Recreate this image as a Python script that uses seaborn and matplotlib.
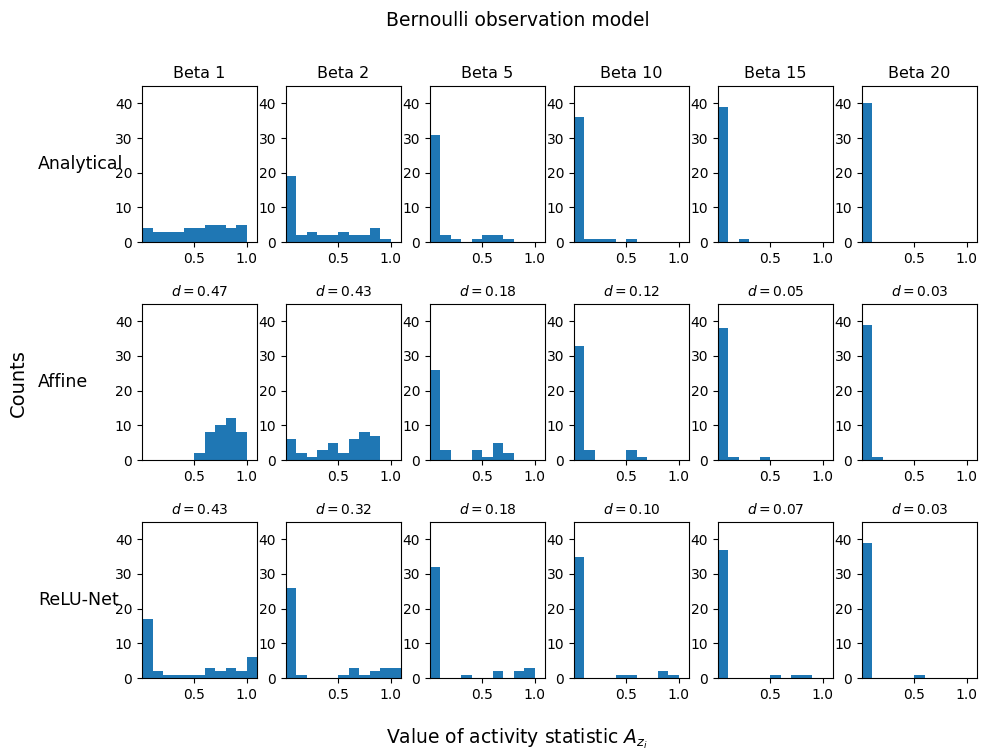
import numpy as np
import pandas as pd
import matplotlib
matplotlib.use("Agg")
import matplotlib.pyplot as plt
import seaborn as sns

betas = [1, 2, 5, 10, 15, 20]
models = ["Analytical", "Affine", "ReLU-Net"]

# counts per 0.1-wide bin starting at 0
analytical_counts = [
    [4, 3, 3, 3, 4, 4, 5, 5, 4, 5],
    [19, 2, 3, 2, 2, 3, 2, 2, 4, 1],
    [31, 2, 1, 0, 1, 2, 2, 1, 0, 0],
    [36, 1, 1, 1, 0, 1, 0, 0, 0, 0],
    [39, 0, 1, 0, 0, 0, 0, 0, 0, 0],
    [40, 0, 0, 0, 0, 0, 0, 0, 0, 0],
]
affine_counts = [
    [0, 0, 0, 0, 0, 2, 8, 10, 12, 8],
    [6, 2, 1, 3, 5, 2, 6, 8, 7, 0],
    [26, 3, 0, 0, 3, 1, 5, 2, 0, 0],
    [33, 3, 0, 0, 0, 3, 1, 0, 0, 0],
    [38, 1, 0, 0, 1, 0, 0, 0, 0, 0],
    [39, 1, 0, 0, 0, 0, 0, 0, 0, 0],
]
relu_counts = [
    [17, 2, 1, 1, 1, 1, 3, 2, 3, 2, 6],
    [26, 1, 0, 0, 0, 1, 3, 1, 2, 3, 3],
    [32, 0, 0, 1, 0, 0, 2, 0, 2, 3],
    [35, 0, 0, 0, 1, 1, 0, 0, 2, 1],
    [37, 0, 0, 0, 0, 1, 0, 1, 1, 0],
    [39, 0, 0, 0, 0, 1, 0, 0, 0, 0],
]
affine_d = [0.47, 0.43, 0.18, 0.12, 0.05, 0.03]
relu_d = [0.43, 0.32, 0.18, 0.10, 0.07, 0.03]

all_counts = [analytical_counts, affine_counts, relu_counts]
all_d = [None, affine_d, relu_d]

fig, axes = plt.subplots(3, 6, figsize=(9.81, 7.51), dpi=100)
fig.subplots_adjust(left=0.1448, right=0.9959, top=0.8855, bottom=0.0972,
                    wspace=0.252, hspace=0.397)

for r in range(3):
    for c in range(6):
        ax = axes[r, c]
        counts = all_counts[r][c]
        nb = len(counts)
        df = pd.DataFrame({"value": (np.arange(nb) + 0.5) * 0.1,
                           "count": counts})
        sns.histplot(data=df, x="value", weights="count", binwidth=0.1,
                     binrange=(0, nb * 0.1), ax=ax,
                     color="#1f77b4", alpha=1, linewidth=0)
        ax.set_xlim(0, 1.1)
        ax.set_ylim(0, 45)
        ax.set_xticks([0.5, 1.0])
        ax.set_yticks([0, 10, 20, 30, 40])
        ax.set_xlabel("")
        ax.set_ylabel("")
        ax.tick_params(labelsize=10)
        if r == 0:
            ax.set_title(f"Beta {betas[c]}", fontsize=11.5)
        else:
            ax.set_title(f"$d = {all_d[r][c]:.2f}$", fontsize=10)

for r, name in enumerate(models):
    pos = axes[r, 0].get_position()
    fig.text(38 / 981, (pos.y0 + pos.y1) / 2, name, fontsize=12.5,
             ha="left", va="center")

fig.suptitle("Bernoulli observation model", fontsize=13.5, x=0.528, y=0.985)
fig.text(18 / 981, 0.49, "Counts", fontsize=14, rotation=90, ha="center", va="center")
fig.text(0.527, 0.017, "Value of activity statistic $A_{z_i}$", fontsize=13.5,
         ha="center", va="center")

plt.savefig("out.png", dpi=100)
